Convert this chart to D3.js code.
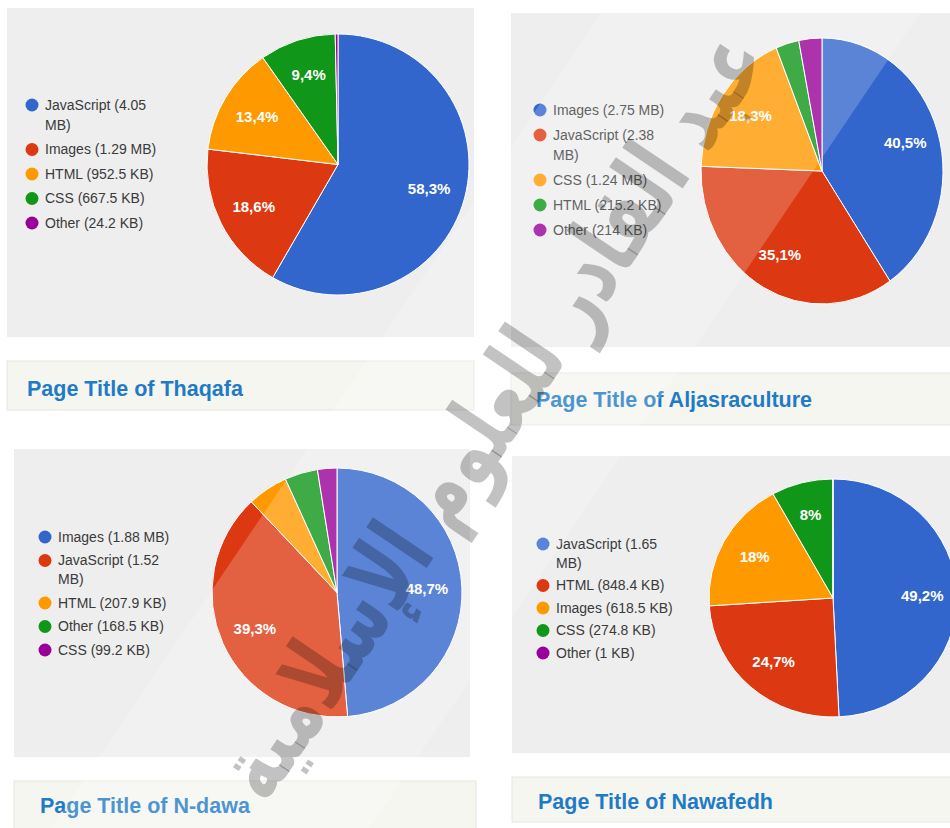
<!DOCTYPE html>
<html>
<head>
<meta charset="utf-8">
<script src="https://cdn.jsdelivr.net/npm/d3@7"></script>
<style>
  body { margin: 0; background: #fff; }
  svg { display: block; font-family: "Liberation Sans", Arial, sans-serif; }
</style>
</head>
<body>
<svg id="chart" width="950" height="828"></svg>
<script>
// page weight per resource type, as shown in each legend
var thaqafaTypes = ["JavaScript", "Images", "HTML", "CSS", "Other"];
var thaqafaSizes = ["4.05 MB", "1.29 MB", "952.5 KB", "667.5 KB", "24.2 KB"];
var thaqafaPct   = ["58,3%", "18,6%", "13,4%", "9,4%", ""];

var aljasraTypes = ["Images", "JavaScript", "CSS", "HTML", "Other"];
var aljasraSizes = ["2.75 MB", "2.38 MB", "1.24 MB", "215.2 KB", "214 KB"];
var aljasraPct   = ["40,5%", "35,1%", "18,3%", "", ""];

var ndawaTypes = ["Images", "JavaScript", "HTML", "Other", "CSS"];
var ndawaSizes = ["1.88 MB", "1.52 MB", "207.9 KB", "168.5 KB", "99.2 KB"];
var ndawaPct   = ["48,7%", "39,3%", "", "", ""];

var nawafedhTypes = ["JavaScript", "HTML", "Images", "CSS", "Other"];
var nawafedhSizes = ["1.65 MB", "848.4 KB", "618.5 KB", "274.8 KB", "1 KB"];
var nawafedhPct   = ["49,2%", "24,7%", "18%", "8%", ""];

var sliceColors = ["#3366cc", "#dc3912", "#ff9900", "#109618", "#990099"];

var watermarkText = "عبد القادر للعلوم الإسلامية";

// layout of the four screenshots
var panels = [
	{ title: "Page Title of Thaqafa", types: thaqafaTypes, sizes: thaqafaSizes, pct: thaqafaPct,
	  bg: [7, 8, 467, 329], head: [7, 361, 467, 49], titleX: 27, titleY: 396,
	  legend: { x: 32, y: 105, step: 24.5, wrap: 20 },
	  pie: { cx: 338, cy: 164.5, rx: 131, ry: 130.5 } },
	{ title: "Page Title of Aljasraculture", types: aljasraTypes, sizes: aljasraSizes, pct: aljasraPct,
	  bg: [511, 13, 450, 334], head: [511, 373, 450, 52], titleX: 536, titleY: 407,
	  legend: { x: 540, y: 110, step: 25, wrap: 20 },
	  pie: { cx: 822, cy: 171, rx: 121, ry: 133 } },
	{ title: "Page Title of N-dawa", types: ndawaTypes, sizes: ndawaSizes, pct: ndawaPct,
	  bg: [14, 449, 456, 308], head: [14, 781, 462, 60], titleX: 40, titleY: 813,
	  legend: { x: 45, y: 537, step: 23.5, wrap: 19 },
	  pie: { cx: 337, cy: 592.5, rx: 125, ry: 124.5 } },
	{ title: "Page Title of Nawafedh", types: nawafedhTypes, sizes: nawafedhSizes, pct: nawafedhPct,
	  bg: [512, 456, 450, 297], head: [512, 777, 450, 45], titleX: 538, titleY: 809,
	  legend: { x: 543, y: 544, step: 22.5, wrap: 19 },
	  pie: { cx: 833, cy: 598, rx: 124, ry: 119 } }
];

function toKB(s) {
	var p = s.split(" ");
	return +p[0] * (p[1] == "MB" ? 1024 : 1);
}

var svg = d3.select("#chart");

var pie = d3.pie().sort(null).value(function(d) { return d.kb; });

panels.forEach(function(p) {
	var data = p.types.map(function(t, i) {
		return { type: t, size: p.sizes[i], kb: toKB(p.sizes[i]), pct: p.pct[i], color: sliceColors[i] };
	});

	var g = svg.append("g");

	g.append("rect")
		.attr("x", p.bg[0]).attr("y", p.bg[1])
		.attr("width", p.bg[2]).attr("height", p.bg[3])
		.attr("fill", "#eeeeee");

	// title strip under each chart
	g.append("rect")
		.attr("x", p.head[0]).attr("y", p.head[1])
		.attr("width", p.head[2]).attr("height", p.head[3])
		.attr("fill", "#f6f6f1")
		.attr("stroke", "#e6e6e1");

	g.append("text")
		.attr("x", p.titleX).attr("y", p.titleY)
		.attr("fill", "#1f7bc6")
		.attr("font-size", 21.5)
		.attr("font-weight", "bold")
		.text(p.title);

	// legend
	var y = p.legend.y;
	data.forEach(function(d) {
		g.append("circle")
			.attr("cx", p.legend.x).attr("cy", y)
			.attr("r", 6.5)
			.attr("fill", d.color);

		var label = g.append("text")
			.attr("x", p.legend.x + 13)
			.attr("y", y)
			.attr("dy", "0.35em")
			.attr("font-size", 14)
			.attr("fill", "#3a3a3a");

		var words = (d.type + " (" + d.size + ")").split(" "),
			line = [],
			lines = 0,
			tspan = label.append("tspan").attr("x", p.legend.x + 13);

		words.forEach(function(w) {
			line.push(w);
			tspan.text(line.join(" "));
			if (tspan.node().getComputedTextLength() > 122 && line.length > 1) {
				line.pop();
				tspan.text(line.join(" "));
				line = [w];
				lines++;
				tspan = label.append("tspan")
					.attr("x", p.legend.x + 13)
					.attr("dy", p.legend.wrap)
					.text(w);
			}
		});
		y += p.legend.step + lines * p.legend.wrap;
	});

	// pie, drawn on the vertical radius and stretched to the screenshot's aspect
	var pc = p.pie,
		arc = d3.arc().innerRadius(0).outerRadius(pc.ry),
		labelArc = d3.arc().innerRadius(pc.ry * 0.72).outerRadius(pc.ry * 0.72),
		arcs = pie(data);

	g.append("g")
		.attr("transform", "translate(" + pc.cx + "," + pc.cy + ") scale(" + (pc.rx / pc.ry) + ",1)")
		.selectAll("path")
		.data(arcs)
		.enter()
			.append("path")
			.attr("d", arc)
			.attr("fill", function(d) { return d.data.color; })
			.attr("stroke", "#fff")
			.attr("stroke-width", 1)
			.attr("vector-effect", "non-scaling-stroke");

	g.append("g")
		.attr("transform", "translate(" + pc.cx + "," + pc.cy + ")")
		.selectAll("text")
		.data(arcs.filter(function(d) { return d.data.pct; }))
		.enter()
			.append("text")
			.attr("x", function(d) { return labelArc.centroid(d)[0] * pc.rx / pc.ry; })
			.attr("y", function(d) { return labelArc.centroid(d)[1]; })
			.attr("dy", "0.35em")
			.attr("text-anchor", "middle")
			.attr("fill", "#fff")
			.attr("font-size", 15)
			.attr("font-weight", "bold")
			.text(function(d) { return d.data.pct; });
});

// diagonal watermark laid over the whole picture
var wm = svg.append("g")
	.attr("transform", "translate(490,414) rotate(-56)")
	.style("pointer-events", "none");

wm.append("rect")
	.attr("x", -700).attr("y", -132)
	.attr("width", 1400).attr("height", 264)
	.attr("fill", "#fff")
	.attr("fill-opacity", 0.2);

wm.append("text")
	.attr("x", 0).attr("y", 0)
	.attr("dy", "0.35em")
	.attr("text-anchor", "middle")
	.attr("direction", "rtl")
	.attr("font-family", "DejaVu Sans")
	.attr("font-weight", "bold")
	.attr("font-size", 96)
	.attr("textLength", 900)
	.attr("lengthAdjust", "spacingAndGlyphs")
	.attr("fill", "#000")
	.attr("fill-opacity", 0.24)
	.text(watermarkText);
</script>
</body>
</html>
